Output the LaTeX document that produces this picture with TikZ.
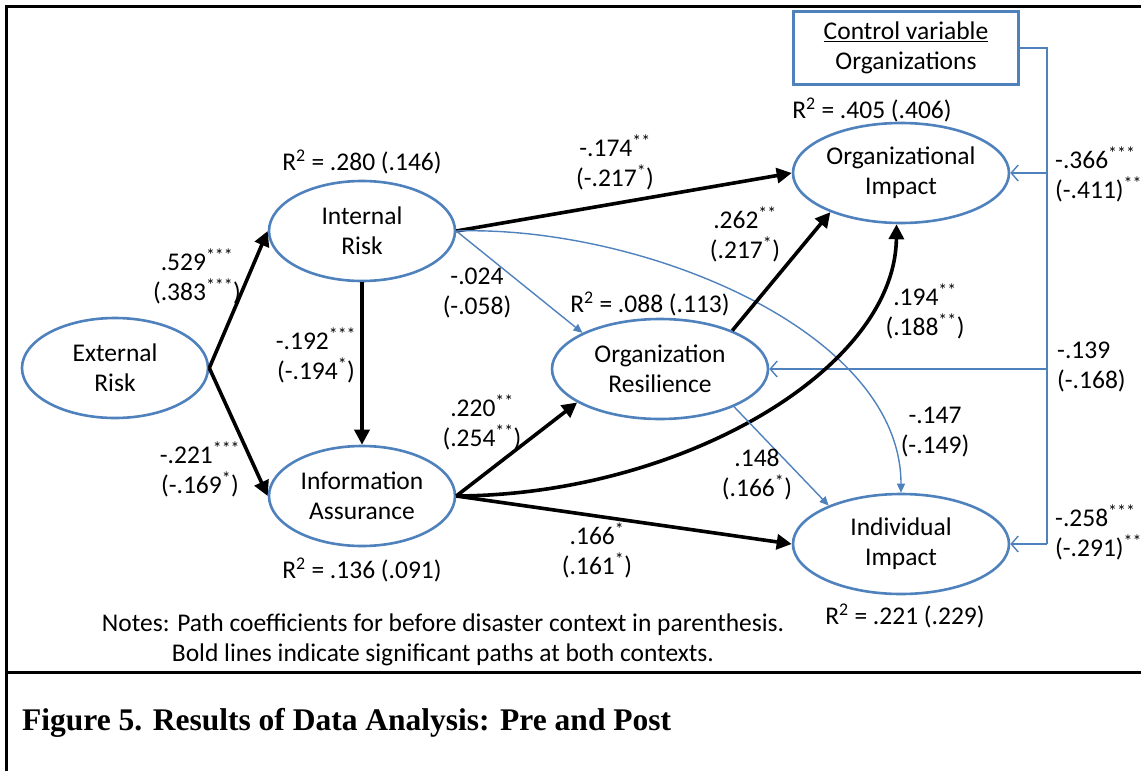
\documentclass[tikz,border=0pt]{standalone}
\usepackage{fontspec}
\setmainfont{Carlito}
\newfontfamily\capfont{Liberation Serif}
\usetikzlibrary{arrows.meta,shapes.geometric}
\definecolor{lvblue}{HTML}{4F81BD}
\newcommand{\lblsize}{\fontsize{25.5}{30}\selectfont}
\newcommand{\st}[1]{\textsuperscript{#1}}
\begin{document}
\begin{tikzpicture}[x=1pt,y=-1pt,
  latent/.style={ellipse, draw=lvblue, line width=2.6pt, minimum width=186pt,
    minimum height=100pt, align=center, inner sep=0pt, font=\lblsize},
  wide/.style={minimum width=216pt, minimum height=100pt},
  lbl/.style={align=center, inner sep=0pt, font=\lblsize},
  sigpath/.style={line width=3.6pt, -{Triangle[length=15pt,width=15pt]}},
  weakpath/.style={draw=lvblue, line width=1.4pt, -{Triangle[length=9pt,width=8pt]}},
  ctrlline/.style={draw=lvblue, line width=1.4pt},
  ctrlpath/.style={ctrlline, -{Straight Barb[length=7pt,width=16pt,line width=1.4pt]}},
  frame/.style={line width=3pt}]
\useasboundingbox (0,0) rectangle (1141,771);

% outer frame
\draw[frame] (1160,6) -- (6,6) -- (6,790);
\draw[frame] (6,672) -- (1160,672);

% constructs
\node[latent] (ext) at (115,368) {External\\Risk};
\node[latent] (ir)  at (362,231) {Internal\\Risk};
\node[latent] (ia)  at (362,496) {Information\\Assurance};
\node[latent,wide] (res) at (660,369) {Organization\\Resilience};
\node[latent,wide] (oi)  at (901,173) {Organizational\\Impact};
\node[latent,wide] (ind) at (901,544) {Individual\\Impact};

% control variable
\node[draw=lvblue, line width=2.6pt, minimum width=225pt, minimum height=73pt,
      align=center, inner sep=0pt, font=\lblsize] (cv) at (906,48)
      {\underline{Control variable}\\Organizations};
\coordinate (cvbus) at (1047,48);
\draw[ctrlline] (cv.east) -- (cvbus) -- (cvbus |- ind.east);
\draw[ctrlpath] (cvbus |- oi.east) -- (oi.east);
\draw[ctrlpath] (cvbus |- res.east) -- (res.east);
\draw[ctrlpath] (cvbus |- ind.east) -- (ind.east);

% paths
\draw[sigpath] (ext.east) -- (ir.west);
\draw[sigpath] (ext.east) -- (ia.west);
\draw[sigpath] (ir.south) -- (ia.north);
\draw[sigpath] (ir.east) -- (oi.west);
\draw[weakpath] (ir.east) -- (res.155);
\draw[weakpath] (ir.east) .. controls (640,225) and (901,330) .. (ind.north);
\draw[sigpath] (ia.east) -- (res.202);
\draw[sigpath] (ia.east) .. controls (680,495) and (895,370) .. (oi.265);
\draw[sigpath] (ia.east) -- (ind.west);
\draw[sigpath] (res.28) -- (oi.209);
\draw[weakpath] (res.333) -- (ind.152);

% coefficients of determination
\node[lbl] (r1) at (362,162) {R\st{2} = .280 (.146)};
\node[lbl] (r2) at (872,110) {R\st{2} = .405 (.406)};
\node[lbl] (r3) at (650,304) {R\st{2} = .088 (.113)};
\node[lbl] (r4) at (362,570) {R\st{2} = .136 (.091)};
\node[lbl] (r5) at (905,616) {R\st{2} = .221 (.229)};

% path coefficients
\node[lbl] (p1)  at (197,276) {.529\st{***}\\(.383\st{***})};
\node[lbl] (p2)  at (200,469) {-.221\st{***}\\(-.169\st{*})};
\node[lbl] (p3)  at (316,355) {-.192\st{***}\\(-.194\st{*})};
\node[lbl] (p4)  at (477,293) {-.024\\(-.058)};
\node[lbl] (p5)  at (615,162) {-.174\st{**}\\(-.217\st{*})};
\node[lbl] (p6)  at (745,234) {.262\st{**}\\(.217\st{*})};
\node[lbl] (p7)  at (925,311) {.194\st{**}\\(.188\st{**})};
\node[lbl] (p8)  at (482,422) {.220\st{**}\\(.254\st{**})};
\node[lbl] (p9)  at (935,432) {-.147\\(-.149)};
\node[lbl] (p10) at (757,475) {.148\\(.166\st{*})};
\node[lbl] (p11) at (597,550) {.166\st{*}\\(.161\st{*})};
\node[lbl,anchor=west,align=left] (p12) at (1055,174) {-.366\st{***}\\(-.411)\st{***}};
\node[lbl,anchor=west,align=left] (p13) at (1057,367) {-.139\\(-.168)};
\node[lbl,anchor=west,align=left] (p14) at (1055,532) {-.258\st{***}\\(-.291)\st{***}};

% notes and caption
\node[lbl] (notes) at (443,640) {Notes: Path coefficients for before disaster context in parenthesis.\\Bold lines indicate significant paths at both contexts.};
\node[anchor=west, inner sep=0pt, font=\capfont\bfseries\fontsize{31.5}{36}\selectfont] (cap) at (22,723)
  {Figure 5. Results of Data Analysis: Pre and Post};
\end{tikzpicture}
\end{document}
